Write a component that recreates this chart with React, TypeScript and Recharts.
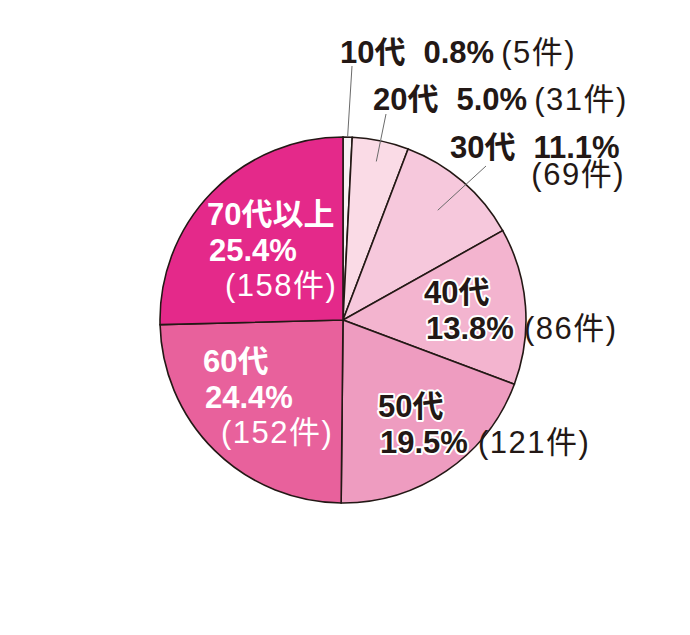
import { PieChart, Pie, Cell } from 'recharts';

// 年代別の件数（合計622件）
const ageGroups = ['10代', '20代', '30代', '40代', '50代', '60代', '70代以上'];
const counts = [5, 31, 69, 86, 121, 152, 158];
const percents = ['0.8%', '5.0%', '11.1%', '13.8%', '19.5%', '24.4%', '25.4%'];
const countLabels = ['(5件)', '(31件)', '(69件)', '(86件)', '(121件)', '(152件)', '(158件)'];

const colors = ['#f7f1f3', '#fadbe6', '#f6c8dc', '#f3b4cf', '#ee9cc0', '#e8619c', '#e4298a'];

const chartData = ageGroups.map((name, i) => ({ name, value: counts[i] }));

// ラベルの置き場所（円の中心からのずれ）
const labelLayout = [
  { kind: 'outside', x: -3, y: -257, lineR: 183, lineX: 9, lineY: -254 },
  { kind: 'outside', x: 30, y: -210, lineR: 162, lineX: 43, lineY: -206 },
  { kind: 'outside2', x: 107, y: -162, countX: 282, countY: -135, lineR: 145, lineX: 143, lineY: -154 },
  { kind: 'inside', x: 81, y: -17, color: '#231815', halo: true, inline: true },
  { kind: 'inside', x: 35, y: 97, color: '#231815', halo: true, inline: true },
  { kind: 'inside', x: -140, y: 52, color: '#ffffff' },
  { kind: 'inside', x: -136, y: -95, color: '#ffffff' },
];

const font = '"Liberation Sans", "Noto Sans CJK JP", sans-serif';
const textColor = '#231815';
const FS = 31;
const RAD = Math.PI / 180;

function renderLabel(props: any) {
  const { cx, cy, midAngle, index } = props;
  const lay: any = labelLayout[index];
  const name = ageGroups[index];
  const pct = percents[index];
  const cnt = countLabels[index];

  if (lay.kind === 'outside' || lay.kind === 'outside2') {
    const ix = cx + lay.lineR * Math.cos(-midAngle * RAD);
    const iy = cy + lay.lineR * Math.sin(-midAngle * RAD);
    return (
      <g key={`lbl-${index}`}>
        <line x1={cx + lay.lineX} y1={cy + lay.lineY} x2={ix} y2={iy} stroke="#6b6b6b" strokeWidth={1} />
        <text x={cx + lay.x} y={cy + lay.y} fill={textColor} fontFamily={font} fontSize={FS}>
          <tspan fontWeight={700}>{name}</tspan>
          <tspan fontWeight={700} dx={18}>{pct}</tspan>
          {lay.kind === 'outside' ? (
            <tspan fontWeight={400} dx={7} letterSpacing={1.5}>{cnt}</tspan>
          ) : null}
        </text>
        {lay.kind === 'outside2' ? (
          <text
            x={cx + lay.countX}
            y={cy + lay.countY}
            textAnchor="end"
            fill={textColor}
            fontFamily={font}
            fontSize={FS}
            fontWeight={400}
            letterSpacing={1.5}
          >
            {cnt}
          </text>
        ) : null}
      </g>
    );
  }

  const halo = lay.halo
    ? { stroke: '#ffffff', strokeWidth: 4, paintOrder: 'stroke' as const, strokeLinejoin: 'round' as const }
    : {};
  const x = cx + lay.x;
  const y = cy + lay.y;
  return (
    <g key={`lbl-${index}`}>
      <text x={x} y={y} fill={lay.color} fontFamily={font} fontSize={FS} fontWeight={700} {...halo}>
        {name}
      </text>
      {lay.inline ? (
        <text x={x + 2} y={y + 36} fill={lay.color} fontFamily={font} fontSize={FS}>
          <tspan fontWeight={700} {...halo}>{pct}</tspan>
          <tspan fontWeight={400} dx={10} letterSpacing={1.5}>{cnt}</tspan>
        </text>
      ) : (
        <>
          <text x={x + 2} y={y + 36} fill={lay.color} fontFamily={font} fontSize={FS} fontWeight={700}>
            {pct}
          </text>
          <text x={x + 18} y={y + 71} fill={lay.color} fontFamily={font} fontSize={FS} fontWeight={400} letterSpacing={1.5}>
            {cnt}
          </text>
        </>
      )}
    </g>
  );
}

export default function App() {
  return (
    <div style={{ position: 'absolute', left: 0, top: 0, width: 690, height: 635, background: '#ffffff' }}>
      <PieChart width={690} height={635} margin={{ top: 0, right: 0, bottom: 0, left: 0 }}>
        <Pie
          data={chartData}
          dataKey="value"
          nameKey="name"
          cx={343}
          cy={320}
          outerRadius={183}
          startAngle={90}
          endAngle={-270}
          stroke="#231815"
          strokeWidth={1.6}
          label={renderLabel}
          labelLine={false}
          isAnimationActive={false}
        >
          {chartData.map((d, i) => (
            <Cell key={d.name} fill={colors[i]} />
          ))}
        </Pie>
      </PieChart>
    </div>
  );
}
